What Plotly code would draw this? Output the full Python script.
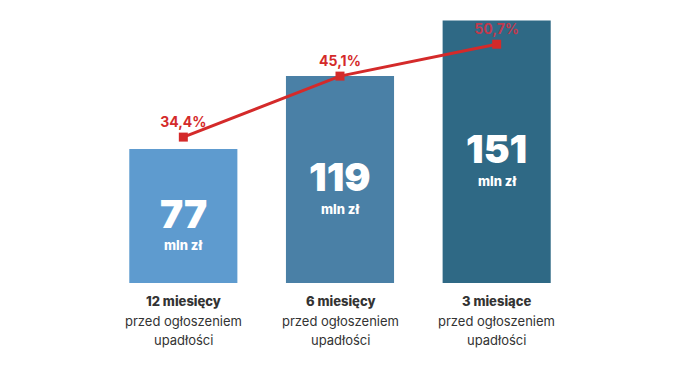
import plotly.graph_objects as go

categories = ["12 miesięcy", "6 miesięcy", "3 miesiące"]
subtitle_line1 = ["przed ogłoszeniem"] * 3
subtitle_line2 = ["upadłości"] * 3
amounts = [77, 119, 151]
amount_labels = ["77", "119", "151"]
unit = "mln zł"
shares = [34.4, 45.1, 50.7]
share_labels = ["34,4%", "45,1%", "50,7%"]
bar_colors = ["#5e9bcf", "#4a80a6", "#2f6985"]

FONT = "Inter, Roboto, sans-serif"
x = list(range(len(categories)))

fig = go.Figure()
fig.add_trace(go.Bar(
    x=x, y=amounts, marker=dict(color=bar_colors, line=dict(width=0)),
    width=0.69, hoverinfo="skip", showlegend=False,
))
fig.add_trace(go.Scatter(
    x=x, y=shares, yaxis="y2", mode="lines+markers+text",
    line=dict(color="#d42a2a", width=3),
    marker=dict(symbol="square", size=9, color="#d42a2a"),
    text=share_labels, textposition="top center",
    textfont=dict(family=FONT, size=14, color=["#d42a2a", "#d42a2a", "#c03a4e"], weight="bold"),
    showlegend=False, hoverinfo="skip",
))

for xi, v, lab in zip(x, amounts, amount_labels):
    fig.add_annotation(x=xi, y=v / 2, text=lab, showarrow=False,
                       yshift=3, font=dict(family=FONT, size=39, color="white", weight=900))
    fig.add_annotation(x=xi, y=v / 2, text=unit, showarrow=False,
                       yshift=-29, font=dict(family=FONT, size=13, color="white", weight=800))

for xi, c, s1, s2 in zip(x, categories, subtitle_line1, subtitle_line2):
    for txt, shift, w in ((c, -18, 800), (s1, -38, 400), (s2, -57, 400)):
        fig.add_annotation(x=xi, xref="x", y=0, yref="paper", yanchor="middle",
                           text=txt, showarrow=False, yshift=shift,
                           font=dict(family=FONT, size=13, color="#333333", weight=w))

# the page body has an 8px default margin; the figure is sized to fit inside the window
fig.update_layout(
    width=682, height=369,
    margin=dict(l=97, r=115, t=2, b=94, autoexpand=False),
    paper_bgcolor="white", plot_bgcolor="white",
    xaxis=dict(range=[-0.5, 2.5], showticklabels=False,
               showgrid=False, zeroline=False, showline=False, ticks="", automargin=False),
    yaxis=dict(range=[0, 157], visible=False, showgrid=False, zeroline=False, automargin=False),
    yaxis2=dict(range=[8.8, 56.7], overlaying="y", visible=False, showgrid=False, zeroline=False, automargin=False),
    font=dict(family=FONT),
)

fig.write_html("out.html")
